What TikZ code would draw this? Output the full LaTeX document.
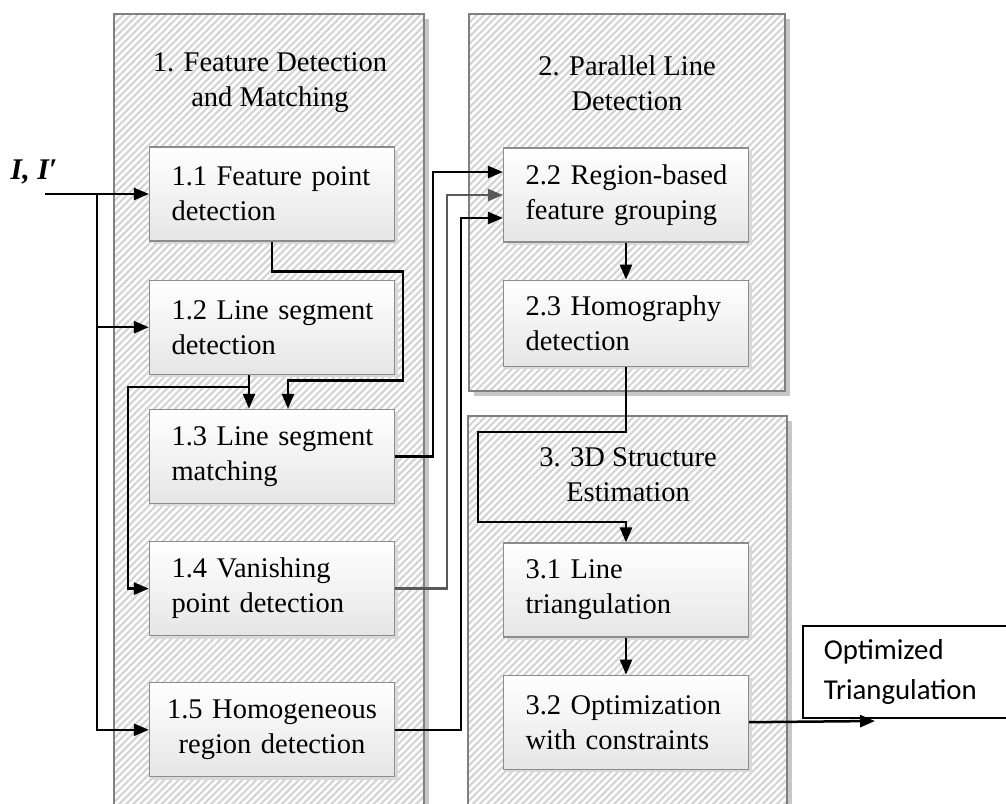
\documentclass[tikz,border=0pt]{standalone}
\usepackage{fontspec}
\setmainfont{Liberation Serif}
\newfontfamily\calibri{Carlito}
\usetikzlibrary{arrows.meta,positioning,patterns.meta}

\begin{document}
\begin{tikzpicture}[x=1pt,y=-1pt,
    panel/.style={draw=black!50,line width=1.5pt,inner sep=0pt,
      preaction={fill=black!22,transform canvas={xshift=5pt,yshift=-5pt}},
      preaction={fill=white},
      pattern={Lines[angle=45,distance=5pt,line width=2.2pt]},pattern color=black!17},
    stage/.style={draw=black!45,line width=1.2pt,inner sep=0pt,
      preaction={fill=black!15,transform canvas={xshift=3pt,yshift=-3pt}},
      top color=white,bottom color=black!10,
      minimum width=245pt,minimum height=94pt,text width=201pt,align=left,
      execute at begin node={\hyphenpenalty=10000\exhyphenpenalty=10000\hfuzz=20pt},
      font=\fontsize{28.5}{35}\selectfont},
    title/.style={align=center,font=\fontsize{28.5}{35}\selectfont},
    result/.style={draw,line width=1.5pt,fill=white,text width=190pt,align=left,
      inner xsep=21pt,minimum height=92pt,font=\calibri\fontsize{28.8}{40}\selectfont},
    link/.style={line width=2.5pt,-{Triangle[length=15pt,width=12pt]}}]

 \path[use as bounding box,clip] (0,0) rectangle (1006,803);

 \node[panel,minimum width=310pt,minimum height=810pt,anchor=north west] (p1) at (113,13) {};
 \node[panel,minimum width=316pt,minimum height=377pt,anchor=north west] (p2) at (468,13) {};
 \node[panel,minimum width=319pt,minimum height=400pt,anchor=north west] (p3) at (467,415) {};

 \node[title] (t1) at (270,83) {1. Feature Detection\\and Matching};
 \node[title] (t2) at (627,83) {2. Parallel Line\\Detection};
 \node[title] (t3) at (628,475) {3. 3D Structure\\Estimation};

 \node[stage] (b11) at (272,194) {1.1~Feature~point\\detection};
 \node[stage] (b12) [below=38pt of b11] {1.2~Line~segment\\detection};
 \node[stage] (b13) [below=34pt of b12] {1.3~Line~segment\\matching};
 \node[stage] (b14) [below=37pt of b13] {1.4~Vanishing\\point detection};
 \node[stage,align=center,text width=215pt] (b15) [below=46pt of b14] {1.5~Homogeneous\\region detection};

 \node[stage] (b22) at (626,195) {2.2~Region-based\\feature grouping};
 \node[stage,minimum height=86pt] (b23) [below=37pt of b22] {2.3~Homography\\detection};

 \node[stage] (b31) at (626,590) {3.1 Line\\triangulation};
 \node[stage] (b32) [below=37pt of b31] {3.2~Optimization\\with constraints};

 \node[result,anchor=north west] (res) at (802,625) {Optimized\\Triangulation};

 \node[font=\fontsize{30}{36}\selectfont] (img) at (34,172) {\bfseries\itshape I, I′};
 \coordinate (in) at (45,194);
 \coordinate (bus) at (97,194);
 \coordinate (out) at (875,721);

 \draw[link] (in) -- (b11.west);
 \draw[link] (bus) |- (b12.west);
 \draw[link] (bus) |- (b15.west);

 \draw[link] (b11.south) -- ++(0,30) -- ++(131,0) -- ++(0,109) -| ([xshift=16pt]b13.north);
 \draw[link] ([xshift=-23pt]b12.south) -- ([xshift=-23pt]b13.north);
 \draw[link] ([xshift=-23pt]b12.south) -- ++(0,12) -- ++(-121,0) |- (b14.west);

 \draw[link] (b13.east) -- ++(38,0) |- ([yshift=23pt]b22.west);
 \draw[link,black!65] (b14.east) -- ++(52,0) |- (b22.west);
 \draw[link] (b15.east) -- ++(66,0) |- ([yshift=-23pt]b22.west);

 \path[link]
 (b22) edge (b23)
 (b31) edge (b32);
 \draw[link] (b23.south) -- ++(0,65) -- ++(-148,0) -- ++(0,90) -| (b31.north);
 \draw[link] (b32.east) -- (out);

\end{tikzpicture}
\end{document}
